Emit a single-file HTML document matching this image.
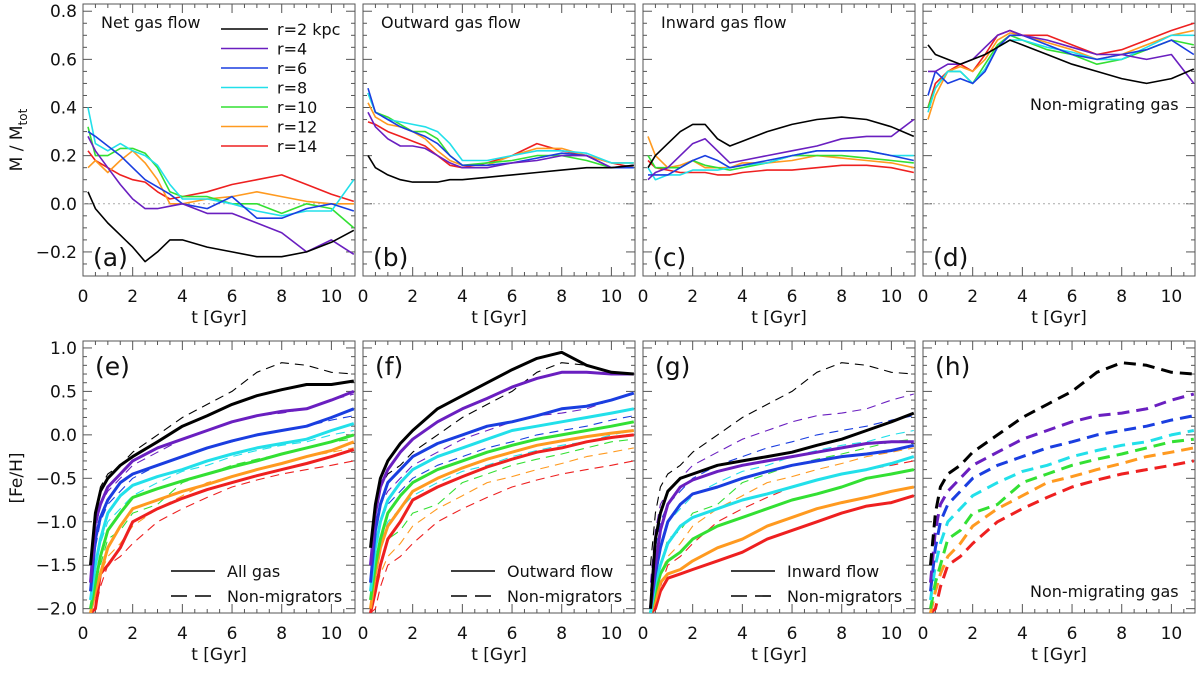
<!DOCTYPE html>
<html><head><meta charset="utf-8"><style>
body{margin:0;background:#fff}
svg text{font-family:"DejaVu Sans","Liberation Sans",sans-serif;fill:#111}
</style></head><body>
<svg id="c" width="1200" height="668" xmlns="http://www.w3.org/2000/svg"></svg>
<script>
const colors=['#000000','#6a1fc0','#1a3ee0','#22e0ea','#33e033','#ff9a20','#ee2020'];
const radii=['r=2 kpc','r=4','r=6','r=8','r=10','r=12','r=14'];
const T=[0.2,0.5,1,1.5,2,2.5,3,3.5,4,5,6,7,8,9,10,10.9];
const netFlow=[[0.05,-0.02,-0.08,-0.13,-0.18,-0.24,-0.2,-0.15,-0.15,-0.18,-0.2,-0.22,-0.22,-0.2,-0.16,-0.11],[0.28,0.22,0.15,0.08,0.02,-0.02,-0.02,-0.01,0,-0.04,-0.04,-0.08,-0.12,-0.2,-0.15,-0.21],[0.3,0.28,0.24,0.2,0.15,0.1,0.07,0.04,0,-0.02,0.03,-0.06,-0.06,-0.02,0,-0.03],[0.4,0.25,0.22,0.25,0.22,0.2,0.16,0.08,0.02,0.02,0.0,-0.03,-0.05,-0.03,-0.03,0.1],[0.32,0.2,0.2,0.23,0.23,0.21,0.15,0.05,0.03,0.03,0.0,0.0,-0.04,0.0,-0.02,-0.1],[0.15,0.18,0.13,0.18,0.22,0.17,0.1,0.0,0.0,0.02,0.03,0.05,0.03,0.01,0.0,0.0],[0.22,0.18,0.15,0.12,0.1,0.09,0.05,0.02,0.03,0.05,0.08,0.1,0.12,0.08,0.04,0.01]];
const outFlow=[[0.2,0.15,0.12,0.1,0.09,0.09,0.09,0.1,0.1,0.11,0.12,0.13,0.14,0.15,0.15,0.16],[0.38,0.32,0.27,0.24,0.24,0.23,0.2,0.17,0.15,0.15,0.17,0.18,0.2,0.2,0.15,0.16],[0.48,0.38,0.35,0.32,0.3,0.28,0.25,0.2,0.16,0.16,0.17,0.19,0.21,0.2,0.15,0.15],[0.46,0.38,0.35,0.34,0.33,0.32,0.3,0.25,0.18,0.18,0.2,0.22,0.22,0.21,0.17,0.17],[0.46,0.38,0.36,0.33,0.3,0.3,0.27,0.2,0.16,0.17,0.18,0.2,0.2,0.18,0.15,0.15],[0.42,0.36,0.33,0.32,0.3,0.27,0.22,0.18,0.16,0.16,0.2,0.23,0.23,0.2,0.17,0.17],[0.34,0.33,0.3,0.28,0.26,0.24,0.2,0.16,0.15,0.17,0.2,0.25,0.22,0.2,0.17,0.15]];
const inFlow=[[0.15,0.2,0.25,0.3,0.33,0.33,0.27,0.24,0.26,0.3,0.33,0.35,0.36,0.35,0.32,0.28],[0.1,0.13,0.15,0.2,0.25,0.27,0.22,0.17,0.18,0.2,0.22,0.24,0.27,0.28,0.28,0.35],[0.12,0.12,0.12,0.15,0.18,0.2,0.18,0.15,0.16,0.18,0.2,0.22,0.22,0.22,0.2,0.18],[0.15,0.1,0.12,0.12,0.14,0.14,0.14,0.15,0.16,0.17,0.2,0.22,0.22,0.22,0.2,0.2],[0.2,0.15,0.15,0.15,0.18,0.16,0.15,0.14,0.15,0.17,0.2,0.2,0.2,0.19,0.18,0.17],[0.28,0.2,0.15,0.16,0.18,0.15,0.15,0.15,0.17,0.17,0.18,0.2,0.19,0.18,0.17,0.15],[0.18,0.15,0.14,0.13,0.13,0.13,0.12,0.12,0.13,0.14,0.14,0.15,0.16,0.16,0.15,0.13]];
const nonMig=[[0.66,0.62,0.6,0.58,0.6,0.62,0.65,0.68,0.66,0.62,0.58,0.55,0.52,0.5,0.52,0.56],[0.55,0.55,0.58,0.58,0.6,0.65,0.7,0.72,0.7,0.68,0.65,0.62,0.62,0.6,0.62,0.5],[0.45,0.55,0.5,0.52,0.5,0.55,0.65,0.7,0.7,0.66,0.62,0.6,0.62,0.64,0.68,0.62],[0.38,0.48,0.55,0.55,0.5,0.56,0.65,0.68,0.68,0.65,0.63,0.6,0.6,0.65,0.7,0.7],[0.4,0.48,0.55,0.55,0.5,0.58,0.66,0.7,0.68,0.64,0.62,0.58,0.6,0.64,0.68,0.66],[0.35,0.45,0.55,0.57,0.55,0.6,0.68,0.71,0.7,0.67,0.64,0.6,0.62,0.66,0.7,0.72],[0.4,0.5,0.55,0.58,0.55,0.62,0.7,0.72,0.7,0.7,0.66,0.62,0.64,0.68,0.72,0.75]];
const T2=[0.3,0.5,0.7,1,1.5,2,3,4,5,6,7,8,9,10,10.9];
const feAll=[[-1.5,-0.9,-0.65,-0.5,-0.35,-0.25,-0.08,0.1,0.22,0.35,0.45,0.52,0.58,0.58,0.62],[-1.7,-1.0,-0.8,-0.6,-0.45,-0.3,-0.15,-0.05,0.05,0.15,0.22,0.27,0.3,0.4,0.5],[-1.8,-1.2,-0.95,-0.75,-0.55,-0.45,-0.35,-0.25,-0.15,-0.07,0.0,0.05,0.1,0.2,0.3],[-1.9,-1.5,-1.2,-0.9,-0.7,-0.58,-0.48,-0.4,-0.3,-0.22,-0.15,-0.1,-0.05,0.05,0.13],[-2.0,-1.7,-1.4,-1.1,-0.9,-0.72,-0.62,-0.53,-0.45,-0.37,-0.3,-0.22,-0.15,-0.08,0.0],[-2.1,-1.8,-1.6,-1.3,-1.05,-0.85,-0.75,-0.65,-0.57,-0.48,-0.4,-0.33,-0.25,-0.18,-0.08],[-2.1,-2.0,-1.6,-1.5,-1.3,-1.0,-0.85,-0.73,-0.63,-0.55,-0.47,-0.4,-0.33,-0.25,-0.17]];
const feNon=[[-1.5,-0.9,-0.6,-0.45,-0.35,-0.2,0.0,0.2,0.35,0.5,0.72,0.83,0.8,0.72,0.7],[-1.7,-1.1,-0.8,-0.65,-0.5,-0.35,-0.2,-0.05,0.05,0.15,0.22,0.25,0.3,0.4,0.47],[-1.8,-1.3,-1.0,-0.8,-0.65,-0.5,-0.35,-0.25,-0.15,-0.08,0.0,0.05,0.1,0.17,0.22],[-1.9,-1.5,-1.25,-1.0,-0.85,-0.7,-0.55,-0.42,-0.35,-0.25,-0.18,-0.12,-0.08,0.0,0.05],[-2.0,-1.7,-1.5,-1.2,-1.1,-0.9,-0.8,-0.55,-0.45,-0.35,-0.28,-0.22,-0.15,-0.08,-0.05],[-2.1,-1.8,-1.6,-1.4,-1.25,-1.05,-0.85,-0.7,-0.55,-0.48,-0.4,-0.33,-0.25,-0.2,-0.15],[-2.1,-2.0,-1.75,-1.5,-1.4,-1.25,-1.0,-0.85,-0.72,-0.6,-0.52,-0.45,-0.4,-0.35,-0.3]];
const feOut=[[-1.3,-0.8,-0.5,-0.3,-0.1,0.05,0.3,0.45,0.6,0.75,0.88,0.95,0.8,0.72,0.7],[-1.5,-0.9,-0.6,-0.4,-0.2,-0.05,0.15,0.3,0.42,0.55,0.65,0.72,0.72,0.7,0.7],[-1.7,-1.1,-0.8,-0.55,-0.4,-0.25,-0.1,0.0,0.1,0.15,0.22,0.3,0.33,0.4,0.48],[-1.8,-1.3,-1.0,-0.75,-0.55,-0.4,-0.25,-0.15,-0.05,0.05,0.1,0.15,0.2,0.25,0.3],[-1.9,-1.5,-1.2,-0.9,-0.7,-0.55,-0.4,-0.3,-0.2,-0.12,-0.05,0.0,0.05,0.1,0.15],[-2.0,-1.6,-1.3,-1.05,-0.85,-0.65,-0.5,-0.38,-0.28,-0.2,-0.12,-0.07,-0.02,0.02,0.05],[-2.1,-1.8,-1.5,-1.2,-1.0,-0.75,-0.6,-0.48,-0.37,-0.28,-0.2,-0.15,-0.08,-0.03,0.0]];
const feIn=[[-2.0,-1.2,-0.9,-0.65,-0.5,-0.45,-0.35,-0.3,-0.25,-0.2,-0.12,-0.05,0.05,0.15,0.25],[-2.0,-1.5,-1.1,-0.8,-0.6,-0.52,-0.42,-0.35,-0.3,-0.25,-0.2,-0.15,-0.1,-0.08,-0.08],[-2.0,-1.6,-1.3,-1.0,-0.8,-0.68,-0.6,-0.5,-0.42,-0.35,-0.3,-0.25,-0.22,-0.18,-0.12],[-2.1,-1.7,-1.5,-1.25,-1.05,-0.95,-0.85,-0.75,-0.68,-0.6,-0.52,-0.45,-0.4,-0.33,-0.25],[-2.1,-1.8,-1.6,-1.45,-1.35,-1.2,-1.05,-0.95,-0.85,-0.75,-0.68,-0.6,-0.5,-0.45,-0.4],[-2.1,-1.9,-1.7,-1.6,-1.55,-1.45,-1.3,-1.2,-1.05,-0.95,-0.85,-0.78,-0.72,-0.65,-0.6],[-2.1,-2.0,-1.8,-1.65,-1.6,-1.55,-1.45,-1.35,-1.2,-1.1,-1.0,-0.9,-0.82,-0.78,-0.7]];
const xTicks=[0,2,4,6,8,10];
const yTicksTop=['0.8','0.6','0.4','0.2','0.0','-0.2'];
const yTicksBot=['1.0','0.5','0.0','-0.5','-1.0','-1.5','-2.0'];

const svg=document.getElementById('c');const NS='http://www.w3.org/2000/svg';
function mk(tag,attrs,parent){const e=document.createElementNS(NS,tag);for(const k in attrs)e.setAttribute(k,attrs[k]);(parent||svg).appendChild(e);return e;}
const PX=[83,363,643,923],PW=272;
const rows=[{y0:4,y1:276,d0:-0.30,d1:0.83,ticks:yTicksTop,minor:0.05},{y0:341,y1:613,d0:-2.05,d1:1.08,ticks:yTicksBot,minor:0.1}];
const X0=0,X1=10.95;
function sx(p,t){return PX[p]+(t-X0)/(X1-X0)*PW;}
function sy(r,v){const R=rows[r];const vv=Math.max(R.d0,Math.min(R.d1,v));return R.y1-(vv-R.d0)/(R.d1-R.d0)*(R.y1-R.y0);}
const clip=mk('defs',{});
for(let r=0;r<2;r++)for(let p=0;p<4;p++){const cp=mk('clipPath',{id:'cp'+r+p},clip);mk('rect',{x:PX[p],y:rows[r].y0,width:PW,height:rows[r].y1-rows[r].y0},cp);}
function line(r,p,ts,vals,color,w,dash,name){
  const d=ts.map((t,i)=>(i?'L':'M')+sx(p,t).toFixed(1)+','+sy(r,vals[i]).toFixed(1)).join('');
  const e=mk('path',{d:d,fill:'none',stroke:color,'stroke-width':w,'stroke-linejoin':'round','clip-path':'url(#cp'+r+p+')'});
  if(dash)e.setAttribute('stroke-dasharray',dash);
  
  
}
function axes(r,p){
  const R=rows[r],x0=PX[p],x1=PX[p]+PW;
  const g=mk('g',{});
  
  
  mk('rect',{x:x0,y:R.y0,width:PW,height:R.y1-R.y0,fill:'none',stroke:'#555','stroke-width':1},g);
  for(let t=0;t<=11;t+=0.5){const x=sx(p,t);if(x>x1)break;const L=(t%2===0)?9:4;
    mk('line',{x1:x,x2:x,y1:R.y1,y2:R.y1-L,stroke:'#555'},g);mk('line',{x1:x,x2:x,y1:R.y0,y2:R.y0+L,stroke:'#555'},g);}
  const ticksV=R.ticks.map(Number);
  for(let v=Math.ceil(R.d0/R.minor)*R.minor;v<=R.d1;v+=R.minor){const y=sy(r,v);const maj=ticksV.some(q=>Math.abs(q-v)<1e-6);const L=maj?9:4;
    mk('line',{x1:x0,x2:x0+L,y1:y,y2:y,stroke:'#555'},g);mk('line',{x1:x1,x2:x1-L,y1:y,y2:y,stroke:'#555'},g);}
  xTicks.forEach(t=>{const tx=mk('text',{x:sx(p,t),y:R.y1+26,'font-size':17,'text-anchor':'middle'},g);tx.textContent=t;});
  const tt=mk('text',{x:x0+PW/2,y:R.y1+47,'font-size':17,'text-anchor':'middle'},g);tt.textContent='t  [Gyr]';
  if(p===0)R.ticks.forEach(s=>{const tx=mk('text',{x:x0-6,y:sy(r,Number(s))+6,'font-size':17,'text-anchor':'end'},g);tx.textContent=s.replace('-','\u2212');});
}
const topData=[netFlow,outFlow,inFlow,nonMig];
const topTitles=['Net gas flow','Outward gas flow','Inward gas flow',''];
const letters=['(a)','(b)','(c)','(d)','(e)','(f)','(g)','(h)'];
for(let p=0;p<4;p++){
  axes(0,p);
  mk('line',{x1:PX[p],x2:PX[p]+PW,y1:sy(0,0),y2:sy(0,0),stroke:'#aaa','stroke-dasharray':'2,3'});
  for(let s=6;s>=0;s--)line(0,p,T,topData[p][s],colors[s],1.6,null,'top-series-'+p+'-'+radii[s].replace(/[^0-9]/g,''));
  if(topTitles[p]){const t=mk('text',{x:PX[p]+18,y:28,'font-size':16});t.textContent=topTitles[p];}
  const l=mk('text',{x:PX[p]+10,y:266,'font-size':25});l.textContent=letters[p];
}
{const t=mk('text',{x:PX[3]+107,y:110,'font-size':16});t.textContent='Non-migrating gas';}
// legend radii
radii.forEach((s,i)=>{const y=29+i*19.5;
  const ln=mk('line',{x1:221,x2:268,y1:y,y2:y,stroke:colors[i],'stroke-width':1.6});
  
  const t=mk('text',{x:277,y:y+6,'font-size':16});t.textContent=s;});
const botSolid=[feAll,feOut,feIn];
const legendSolid=['All gas','Outward flow','Inward flow'];
for(let p=0;p<4;p++){
  axes(1,p);
  if(p<3){
    for(let s=6;s>=0;s--)line(1,p,T2,feNon[s],colors[s],1.1,'9,6','nonmigrator-series-'+p+'-'+s);
    for(let s=6;s>=0;s--)line(1,p,T2,botSolid[p][s],colors[s],3,null,'solid-series-'+p+'-'+s);
    const lx=PX[p]+88;
    mk('line',{x1:lx,x2:lx+44,y1:571,y2:571,stroke:'#000','stroke-width':1.6});
    mk('line',{x1:lx,x2:lx+44,y1:596,y2:596,stroke:'#000','stroke-width':1.6,'stroke-dasharray':'16,8'});
    const a=mk('text',{x:lx+56,y:577,'font-size':16});a.textContent=legendSolid[p];
    const b=mk('text',{x:lx+56,y:602,'font-size':16});b.textContent='Non-migrators';
  } else {
    for(let s=6;s>=0;s--)line(1,p,T2,feNon[s],colors[s],3,'12,7','nonmigrator-series-'+p+'-'+s);
    const t=mk('text',{x:PX[3]+107,y:597,'font-size':16});t.textContent='Non-migrating gas';
  }
  const l=mk('text',{x:PX[p]+12,y:375,'font-size':25});l.textContent=letters[4+p];
}
{const t=mk('text',{x:0,y:0,'font-size':17,transform:'translate(22,140) rotate(-90)','text-anchor':'middle'});t.innerHTML='M / M<tspan font-size="12" dy="5">tot</tspan>';}
{const t=mk('text',{x:0,y:0,'font-size':17,transform:'translate(22,478) rotate(-90)','text-anchor':'middle'});t.textContent='[Fe/H]';}
</script>
</body></html>
